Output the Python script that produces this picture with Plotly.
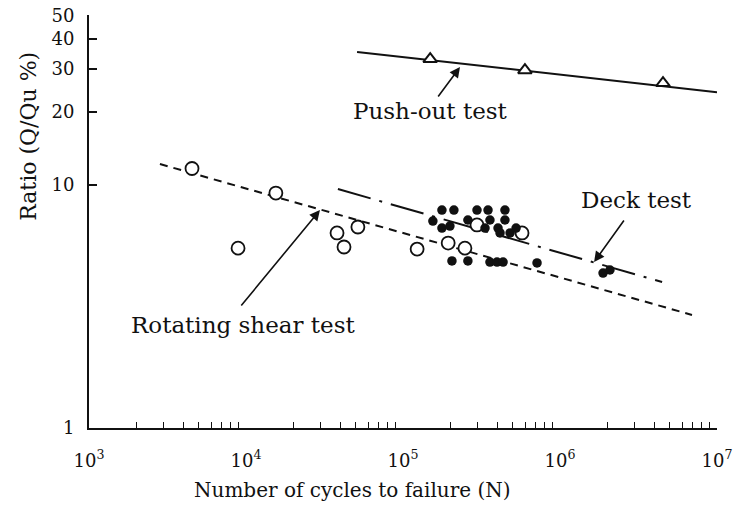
import numpy as np
import plotly.graph_objects as go

# ---------------- data ----------------
# Push-out test (triangles) and its fitted line
push_N = [1.49e5, 5.98e5, 4.53e6]
push_R = [33.0, 29.7, 26.3]
push_line_N = [5.1e4, 1.0e7]
push_line_R = [35.3, 24.1]

# Rotating shear test (open circles) and dashed line
rot_N = [4.53e3, 1.55e4, 8.9e3, 3.8e4, 4.21e4, 5.16e4, 1.23e5, 1.94e5, 2.48e5, 2.96e5, 5.73e5]
rot_R = [11.7, 9.27, 5.5, 6.35, 5.56, 6.72, 5.45, 5.77, 5.5, 6.85, 6.35]
rot_line_N = [2.83e3, 6.93e6]
rot_line_R = [12.2, 2.92]

# Deck test (filled dots) and dash-dot line
deck_N = [1.77e5, 2.11e5, 2.96e5, 3.48e5, 4.46e5,
          1.55e5, 2.59e5, 3.58e5, 4.46e5,
          1.77e5, 1.99e5, 3.33e5, 4.03e5, 4.15e5, 4.81e5, 5.25e5,
          2.05e5, 2.59e5, 3.58e5, 3.97e5, 4.34e5, 7.14e5,
          1.88e6, 2.08e6]
deck_R = [7.89, 7.89, 7.89, 7.89, 7.89,
          7.11, 7.18, 7.18, 7.18,
          6.65, 6.78, 6.65, 6.65, 6.35, 6.35, 6.65,
          4.87, 4.87, 4.82, 4.82, 4.82, 4.78,
          4.34, 4.47]
deck_line_N = [3.85e4, 4.47e6]
deck_line_R = [9.63, 3.99]

x_tickvals = [1e3, 1e4, 1e5, 1e6, 1e7]
x_ticktext = ["10<sup>3</sup>", "10<sup>4</sup>", "10<sup>5</sup>", "10<sup>6</sup>", "10<sup>7</sup>"]
y_tickvals = [1, 10, 20, 30, 40, 50]
y_ticktext = ["1", "10", "20", "30", "40", "50"]

x_title = "Number of cycles to failure (N)"
y_title = "Ratio (Q/Qu %)"
labels = ["Push-out test", "Rotating shear test", "Deck test"]

FONT = "DejaVu Serif"
BLACK = "#111111"

fig = go.Figure()

fig.add_trace(go.Scatter(x=push_line_N, y=push_line_R, mode="lines",
                         line=dict(color=BLACK, width=2), showlegend=False))
fig.add_trace(go.Scatter(x=rot_line_N, y=rot_line_R, mode="lines",
                         line=dict(color=BLACK, width=2, dash="8px,6px"), showlegend=False))
fig.add_trace(go.Scatter(x=deck_line_N, y=deck_line_R, mode="lines",
                         line=dict(color=BLACK, width=2, dash="34px,9px,3px,9px"), showlegend=False))

fig.add_trace(go.Scatter(x=push_N, y=push_R, mode="markers",
                         marker=dict(symbol="triangle-up", size=12, color="white",
                                     line=dict(color=BLACK, width=2)), showlegend=False))
fig.add_trace(go.Scatter(x=rot_N, y=rot_R, mode="markers",
                         marker=dict(symbol="circle", size=13, color="white",
                                     line=dict(color=BLACK, width=1.8)), showlegend=False))
fig.add_trace(go.Scatter(x=deck_N, y=deck_R, mode="markers",
                         marker=dict(symbol="circle", size=9.5, color=BLACK,
                                     line=dict(width=0)), showlegend=False))

# minor ticks 2..9 per decade
minor_vals = [m * 10 ** d for d in range(3, 7) for m in range(2, 10)]

fig.update_xaxes(type="log", range=[3, 7], tickvals=x_tickvals, ticktext=x_ticktext,
                 ticks="", showgrid=False, zeroline=False, automargin=False,
                 showline=True, linecolor=BLACK, linewidth=2,
                 tickfont=dict(family=FONT, size=18, color=BLACK),
                 ticklabelstandoff=15,
                 minor=dict(tickvals=minor_vals, ticks="inside", ticklen=6,
                            tickcolor=BLACK, tickwidth=1.2, showgrid=False))
fig.update_yaxes(type="log", range=[0, np.log10(50) + 0.001], tickvals=y_tickvals, ticktext=y_ticktext,
                 ticks="inside", ticklen=8, tickwidth=1.5, tickcolor=BLACK,
                 showgrid=False, zeroline=False, automargin=False,
                 showline=True, linecolor=BLACK, linewidth=2,
                 tickfont=dict(family=FONT, size=18, color=BLACK),
                 ticklabelstandoff=9)

ann_font = dict(family=FONT, size=23, color=BLACK)
# text labels (log10 data coordinates)
fig.add_annotation(x=5.178, y=1.305, xref="x", yref="y", text=labels[0],
                   showarrow=False, font=ann_font, xanchor="center", yanchor="middle")
fig.add_annotation(x=3.981, y=0.424, xref="x", yref="y", text=labels[1],
                   showarrow=False, font=ann_font, xanchor="center", yanchor="middle")
fig.add_annotation(x=6.490, y=0.938, xref="x", yref="y", text=labels[2],
                   showarrow=False, font=ann_font, xanchor="center", yanchor="middle")
# arrows
for tip, tail in [((5.363, 1.486), (5.217, 1.358)),
                  ((4.471, 0.897), (3.962, 0.498)),
                  ((6.217, 0.683), (6.414, 0.860))]:
    fig.add_annotation(x=tip[0], y=tip[1], ax=tail[0], ay=tail[1],
                       xref="x", yref="y", axref="x", ayref="y",
                       text="", showarrow=True, arrowhead=2, arrowsize=1.3,
                       arrowwidth=1.6, arrowcolor=BLACK)

# axis titles
fig.add_annotation(x=0.419, y=-0.150, xref="paper", yref="paper", text=x_title,
                   xanchor="center", yanchor="middle",
                   showarrow=False, font=dict(family=FONT, size=20, color=BLACK))
fig.add_annotation(x=-0.0955, y=0.705, xref="paper", yref="paper", text=y_title,
                   xanchor="center", yanchor="middle",
                   textangle=-90, showarrow=False, font=dict(family=FONT, size=22, color=BLACK))

fig.update_layout(width=742, height=512,
                  margin=dict(l=89, r=25, t=15, b=84),
                  paper_bgcolor="white", plot_bgcolor="white",
                  showlegend=False)

# remove the browser's default body margin so the figure fills the window exactly
fig.write_html("out.html", config={"displayModeBar": False},
               post_script="document.body.style.margin='0';")
